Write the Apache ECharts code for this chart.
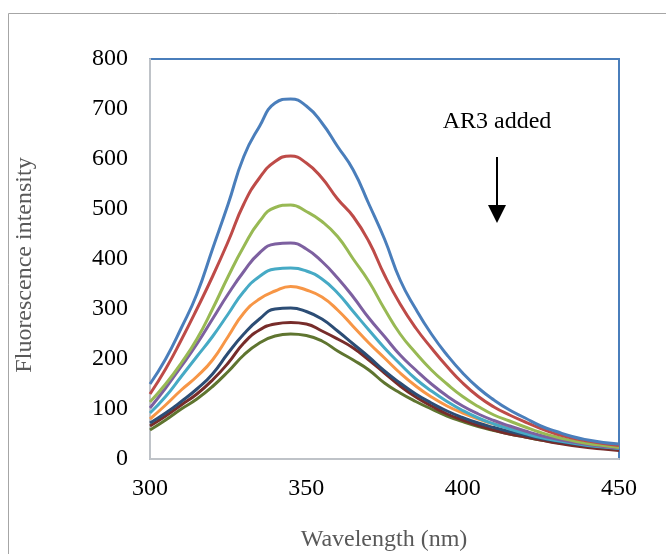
<!DOCTYPE html>
<html>
<head>
<meta charset="utf-8">
<script src="https://cdn.jsdelivr.net/npm/echarts@6/dist/echarts.min.js"></script>
<style>html,body{margin:0;padding:0;background:#fff}#c{width:666px;height:554px}</style>
</head>
<body>
<div id="c"></div>
<script>
const wavelengths = [300,305,310,315,320,325,330,335,340,345,350,355,360,365,370,375,380,385,390,395,400,405,410,415,420,425,430,435,440,445,450];
const s1 = [150,200,262,330,420,510,605,665,712,720,706,672,625,578,510,440,358,300,250,208,172,142,118,98,82,66,55,45,38,33,30];
const s2 = [130,180,238,300,365,435,510,562,595,606,592,562,520,485,435,368,310,262,222,185,152,125,104,88,74,61,50,42,36,31,27];
const s3 = [114,150,192,240,300,365,425,475,503,508,495,475,445,400,355,300,250,212,178,150,125,105,88,76,64,53,44,37,31,27,23];
const s4 = [102,142,185,230,280,330,375,412,430,432,420,395,362,324,282,245,208,178,150,126,106,90,77,66,56,47,40,34,29,25,22];
const s5 = [92,125,165,205,245,290,335,365,380,382,376,360,332,295,258,222,190,160,136,115,97,82,70,60,51,43,37,32,27,24,21];
const s6 = [80,108,138,165,198,245,292,320,336,345,338,324,298,265,232,202,172,146,124,106,92,80,70,61,53,45,39,34,30,27,25];
const s7 = [72,92,115,140,170,212,250,280,300,302,295,280,256,230,204,176,152,130,112,96,83,72,63,55,48,41,36,31,27,24,22];
const s8 = [66,86,108,130,158,192,232,258,270,273,270,256,240,222,198,172,146,124,106,90,78,67,58,50,44,38,32,27,23,20,17];
const s9 = [58,78,100,120,145,175,208,232,246,250,247,236,216,198,178,152,132,115,100,86,75,65,57,50,44,38,33,29,25,22,20];
const seriesValues = [s1,s2,s3,s4,s5,s6,s7,s8,s9];
const colors = ['#4A7EBB','#BE4B48','#98B954','#7D60A0','#46AAC5','#F79646','#2C4D75','#772C2A','#5F7530'];
const xTicks = [300,350,400,450];
const yTicks = [0,100,200,300,400,500,600,700,800];

const chart = echarts.init(document.getElementById('c'));
const font = 'Liberation Serif';
chart.setOption({
  animation: false,
  backgroundColor: '#fff',
  grid: {left:150, top:59, right:47, bottom:95, show:true, borderColor:'#4A7EBB', borderWidth:2, backgroundColor:'transparent'},
  xAxis: {
    type:'value', min:xTicks[0], max:xTicks[xTicks.length-1], interval:50,
    axisLine:{show:true, lineStyle:{color:'#BFC3C8', width:2}},
    axisTick:{show:false}, splitLine:{show:false},
    axisLabel:{fontFamily:font, fontSize:24, color:'#000', margin:18}
  },
  yAxis: {
    type:'value', min:yTicks[0], max:yTicks[yTicks.length-1], interval:100,
    axisLine:{show:true, lineStyle:{color:'#BFC3C8', width:2}},
    axisTick:{show:false}, splitLine:{show:false},
    axisLabel:{fontFamily:font, fontSize:24, color:'#000', margin:22}
  },
  series: seriesValues.map((vals,i)=>({
    type:'line', smooth:true, symbol:'none', z: 10 - i,
    lineStyle:{width:3, color:colors[i]},
    data: vals.map((v,j)=>[wavelengths[j], v])
  })),
  graphic: [
    {type:'rect', shape:{x:8.5, y:13.5, width:700, height:600}, style:{fill:'none', stroke:'#A6A6A6', lineWidth:1}, z:-10},
    {type:'text', x:384, y:540, style:{text:'Wavelength (nm)', fontFamily:font, fontSize:24, fill:'#595959', align:'center', verticalAlign:'middle'}},
    {type:'text', x:25, y:265, rotation:Math.PI/2, style:{text:'Fluorescence intensity', fontFamily:font, fontSize:24, fill:'#595959', align:'center', verticalAlign:'middle'}},
    {type:'text', x:497, y:122, style:{text:'AR3 added', fontFamily:font, fontSize:24, fill:'#000', align:'center', verticalAlign:'middle'}},
    {type:'line', shape:{x1:497, y1:157, x2:497, y2:210}, style:{stroke:'#000', lineWidth:2}},
    {type:'polygon', shape:{points:[[488,205],[506,205],[497,223]]}, style:{fill:'#000'}}
  ]
});
</script>
</body>
</html>
